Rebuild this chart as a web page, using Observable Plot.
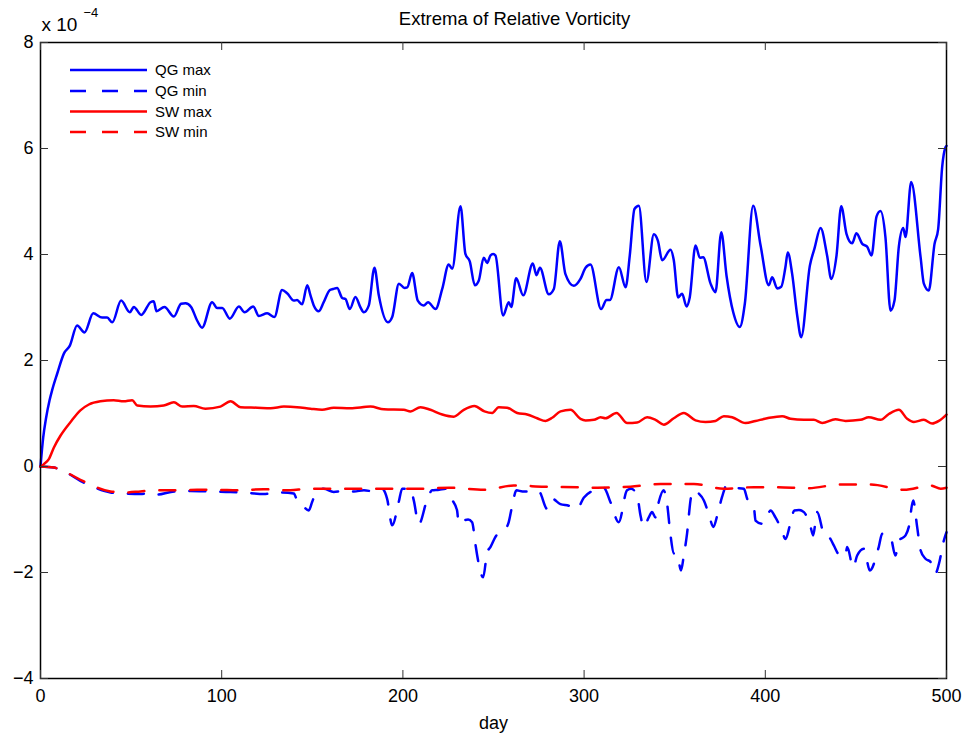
<!DOCTYPE html>
<html><head><meta charset="utf-8">
<script src="https://cdn.jsdelivr.net/npm/d3@7"></script>
<script src="https://cdn.jsdelivr.net/npm/@observablehq/plot@0.6"></script>
<style>
body{margin:0;background:#fff;}
#wrap{position:relative;width:968px;height:740px;font-family:"Liberation Sans",Arial,Helvetica,sans-serif;}
#wrap svg{display:block;}
#legend{position:absolute;left:0;top:0;}
</style></head><body><div id="wrap"></div>
<script>
const title = "Extrema of Relative Vorticity";
const xLabel = "day";
const scaleText = "x 10";
const scaleExp = "−4";
const xTicks = [0, 100, 200, 300, 400, 500];
const yTicks = [-4, -2, 0, 2, 4, 6, 8];
const seriesNames = ["QG max", "QG min", "SW max", "SW min"];
const seriesColors = ["#0000ff", "#0000ff", "#ff0000", "#ff0000"];
const seriesDashed = [false, true, false, true];

// values in units of 1e-4, [day, value]
const qgMax = [[0,0],[1.5,0.55],[3,0.9],[5,1.25],[6.5,1.45],[9.2,1.75],[12.9,2.13],[16.2,2.28],[20.2,2.66],[24.3,2.53],[29.1,2.89],[34,2.81],[36.8,2.81],[39.6,2.72],[44.5,3.13],[49.3,2.91],[51.5,3.01],[55.6,2.86],[60.7,3.10],[62.5,3.12],[64,2.93],[68.4,3.01],[73.6,2.83],[77.6,3.07],[80,3.08],[83.1,3.01],[86.5,2.75],[89.2,2.62],[94.7,3.10],[97.5,2.99],[100.3,2.99],[104.5,2.79],[109.5,3.02],[112.6,2.91],[117.4,3.02],[120.5,2.84],[125.1,2.89],[129.1,2.82],[133.3,3.33],[136.1,3.27],[139.8,3.13],[141.6,3.14],[144.4,3.06],[147.2,3.42],[149,3.23],[150.8,3.04],[153.6,2.93],[156.3,3.10],[159.7,3.33],[161.5,3.35],[163.7,3.37],[166.5,3.18],[168.3,3.16],[170.7,2.97],[173.8,3.20],[176.6,3.00],[178.4,2.91],[181.2,3.04],[184.3,3.75],[186.7,3.23],[191.7,2.72],[194.1,2.82],[197.8,3.45],[200.9,3.37],[202.4,3.38],[205.1,3.65],[208.2,3.13],[211.5,3.04],[213.9,3.10],[218,2.97],[221.7,3.35],[225.3,3.81],[227.2,3.73],[231.8,4.91],[234.5,4.01],[236.9,3.87],[239.7,3.42],[241.9,3.51],[244.6,3.94],[246.5,3.84],[248.3,3.98],[249.8,4.01],[251.1,3.98],[255.3,2.85],[258.4,3.10],[259.8,3.01],[262.5,3.55],[266.4,3.23],[271.7,3.83],[273.7,3.61],[275.6,3.75],[280.5,3.25],[283.3,3.35],[286.6,4.25],[289.7,3.63],[294.3,3.41],[298,3.54],[300.8,3.75],[303.5,3.81],[309.4,2.97],[312.4,3.14],[314.2,3.14],[319.2,3.76],[322.9,3.38],[325.2,3.98],[327.8,4.86],[330.2,4.92],[334.4,3.48],[338.5,4.38],[340.7,4.26],[343.1,3.89],[347.7,4.09],[349.5,3.89],[351.9,3.19],[354.1,3.26],[356.5,3.02],[358.3,3.19],[361.5,4.17],[363.9,3.94],[365.7,3.95],[369.8,3.45],[372.5,3.29],[375.7,4.42],[378.6,3.60],[382.3,2.91],[385.9,2.63],[388.7,3.07],[393.3,4.92],[397.4,4.17],[401.9,3.42],[403.8,3.57],[406.6,3.36],[408.8,3.39],[411.1,3.76],[412.4,4.04],[414.8,3.64],[417.6,2.85],[419.8,2.44],[424.6,3.79],[427.2,4.12],[430.5,4.50],[434.1,3.98],[436.4,3.54],[439.3,3.98],[441.9,4.91],[444.8,4.39],[447.9,4.21],[450.3,4.40],[453.5,4.20],[456.2,4.15],[458.6,3.98],[461.4,4.72],[463.6,4.82],[466.3,4.33],[469.1,2.94],[471.3,3.13],[473.7,4.15],[476.1,4.50],[477.4,4.33],[480.5,5.37],[485.7,3.95],[487.5,3.45],[490.2,3.32],[493.4,4.20],[495.4,4.48],[497.6,5.65],[499.4,6.02],[500,6.05]];

const qgMin = [[0,0],[7.4,-0.02],[12.9,-0.09],[22,-0.27],[29.4,-0.39],[38.6,-0.49],[47,-0.51],[55.2,-0.52],[60,-0.50],[64.4,-0.53],[72,-0.48],[82.7,-0.46],[94,-0.47],[104.8,-0.48],[115,-0.50],[123.2,-0.52],[132,-0.49],[139.8,-0.51],[141.6,-0.64],[145,-0.75],[148,-0.83],[149.9,-0.67],[152,-0.50],[156.3,-0.42],[161.8,-0.48],[167,-0.46],[173,-0.47],[178.5,-0.45],[184,-0.47],[188.6,-0.42],[191.3,-0.61],[194.1,-1.11],[197.7,-0.67],[199.6,-0.42],[204.2,-0.42],[206,-0.64],[208.8,-1.09],[213,-0.67],[216.1,-0.45],[220,-0.44],[223.5,-0.42],[227.2,-0.63],[229.9,-0.83],[230.8,-1.08],[233.6,-1.02],[236,-1.00],[238.2,-1.05],[240,-1.46],[241,-1.68],[244.3,-2.09],[246.5,-1.62],[248.3,-1.52],[251.6,-1.30],[255.7,-1.21],[258.4,-1.05],[260.3,-0.74],[262.7,-0.45],[266,-0.47],[270.4,-0.47],[275,-0.47],[279.6,-0.80],[282.4,-0.61],[286.9,-0.71],[291.5,-0.74],[296.1,-0.80],[299.8,-0.59],[305.3,-0.45],[310.8,-0.40],[314.5,-0.67],[319.1,-1.05],[323.7,-0.45],[326,-0.42],[329.3,-0.55],[331.1,-0.92],[332.9,-1.14],[335.7,-0.96],[337.5,-0.86],[339.4,-0.96],[341.2,-0.67],[343.9,-0.45],[345.8,-0.70],[347.6,-1.27],[349.5,-1.64],[351.3,-1.65],[353.5,-1.96],[354.9,-1.71],[356.8,-1.27],[359,-0.58],[360.6,-0.45],[363,-0.50],[366.1,-0.64],[368.7,-0.89],[371.4,-1.14],[373.5,-0.92],[376.1,-0.58],[378.6,-0.36],[383,-0.40],[388.2,-0.42],[390,-0.61],[393.7,-0.77],[394.6,-1.02],[398.2,-1.08],[400.1,-1.02],[402.9,-0.83],[405.6,-0.96],[409.2,-1.21],[411.1,-1.37],[413.8,-1.08],[416,-0.83],[418.6,-0.82],[421.3,-0.86],[425,-1.14],[426.4,-1.30],[428.6,-0.86],[432.3,-1.27],[436,-1.37],[437.8,-1.49],[441.9,-1.71],[444.3,-1.65],[445.2,-1.52],[448.5,-1.90],[450.7,-1.68],[454.4,-1.55],[457.7,-1.96],[462.6,-1.52],[464.5,-1.27],[469.1,-1.33],[471.8,-1.68],[473.7,-1.40],[477.4,-1.30],[479.2,-1.14],[481.6,-0.64],[483.8,-1.14],[485.7,-1.58],[488.4,-1.74],[491.2,-1.80],[493.9,-2.02],[495.8,-1.84],[498.5,-1.40],[500,-1.24]];

const swMax = [[0,0],[2,0.05],[4.6,0.14],[7.4,0.36],[11,0.58],[16.6,0.84],[22,1.06],[26.7,1.17],[33,1.23],[40.4,1.25],[45.9,1.23],[50.6,1.25],[53.4,1.15],[60.7,1.13],[68,1.15],[73.6,1.21],[78.2,1.13],[84.6,1.14],[91,1.09],[99.3,1.13],[104.9,1.23],[110.4,1.12],[119.6,1.11],[127,1.10],[134.3,1.13],[141.6,1.12],[149,1.09],[155.4,1.07],[161.8,1.11],[171,1.10],[182.1,1.13],[189.5,1.08],[200.5,1.07],[204.2,1.04],[209.7,1.12],[215.2,1.07],[221.7,0.98],[228.1,0.94],[233.6,1.07],[239.5,1.14],[245,1.04],[249.3,1.01],[252.9,1.12],[257.5,1.11],[263.1,1.01],[268.6,0.98],[274.1,0.91],[278.7,0.86],[282.4,0.92],[287,1.04],[292.5,1.07],[298,0.90],[300.8,0.87],[305.4,0.88],[309.1,0.93],[311.8,0.91],[317.9,1.01],[323.8,0.82],[329.3,0.83],[334.8,0.93],[339.4,0.88],[344,0.79],[349.5,0.91],[355,1.01],[361.5,0.87],[367,0.84],[372.5,0.86],[377.1,0.95],[381.7,0.93],[389.1,0.82],[394.6,0.86],[401,0.91],[409.3,0.95],[413.9,0.90],[421.3,0.88],[426.8,0.88],[431.4,0.82],[438.7,0.89],[444.3,0.86],[452.5,0.88],[457.1,0.93],[463.6,0.88],[468.2,0.99],[473.7,1.07],[478.3,0.90],[482,0.84],[487.5,0.88],[492.1,0.81],[495.8,0.86],[500,0.98]];

const swMin = [[0,0],[7.4,-0.02],[12.9,-0.09],[22,-0.25],[29.4,-0.37],[38.6,-0.47],[46.9,-0.49],[55.2,-0.47],[64.4,-0.45],[75.4,-0.45],[86.4,-0.44],[97.4,-0.44],[108.5,-0.45],[123.2,-0.43],[137.9,-0.45],[147.1,-0.42],[160,-0.42],[171,-0.42],[190,-0.42],[210,-0.42],[225.4,-0.40],[244.7,-0.44],[261.2,-0.36],[277.8,-0.38],[296.3,-0.39],[307.2,-0.40],[325.6,-0.38],[342.2,-0.33],[360.6,-0.33],[377.1,-0.42],[393.7,-0.39],[406.6,-0.39],[423.2,-0.41],[441.6,-0.34],[458.2,-0.34],[476.6,-0.44],[491.3,-0.36],[496.8,-0.42],[500,-0.40]];

const allSeries = [qgMax, qgMin, swMax, swMin];
const W = 968, H = 740, mL = 40, mR = 22, mT = 42, mB = 62;
const font = '"Liberation Sans", Arial, Helvetica, sans-serif';
const fmt = d => d < 0 ? "−" + Math.abs(d) : String(d);

const lineMarks = allSeries.map((s, i) => Plot.line(s, {
  x: d => d[0], y: d => d[1],
  stroke: seriesColors[i], strokeWidth: 2.5,
  strokeDasharray: seriesDashed[i] ? "16,15" : null,
  curve: "monotone-x"
}));

const chart = Plot.plot({
  width: W, height: H,
  marginLeft: mL, marginRight: mR, marginTop: mT, marginBottom: mB,
  style: {fontFamily: font, fontSize: "18px", color: "#000", background: "#fff", overflow: "visible"},
  x: {domain: [0, 500], label: null},
  y: {domain: [-4, 8], label: null},
  marks: [
    ...lineMarks,
    Plot.frame({stroke: "#000", strokeWidth: 1.5}),
    Plot.axisX(xTicks, {tickSize: 0, tickPadding: 11, fontSize: 18, tickFormat: fmt, label: null}),
    Plot.axisY(yTicks, {tickSize: 0, tickPadding: 7, fontSize: 18, tickFormat: fmt, label: null}),
    Plot.ruleX(xTicks, {x: d => d, y1: -4, y2: -4, insetBottom: 8, stroke: "#333", strokeWidth: 1}),
    Plot.ruleX(xTicks, {x: d => d, y1: 8, y2: 8, insetTop: 8, stroke: "#333", strokeWidth: 1}),
    Plot.ruleY(yTicks, {y: d => d, x1: 0, x2: 0, insetRight: -8, stroke: "#333", strokeWidth: 1}),
    Plot.ruleY(yTicks, {y: d => d, x1: 500, x2: 500, insetLeft: -8, stroke: "#333", strokeWidth: 1}),
    Plot.text([title], {frameAnchor: "top", lineAnchor: "bottom", dx: 21, dy: -18, fontSize: 18.5, fill: "#000"}),
    Plot.text([scaleText], {frameAnchor: "top-left", textAnchor: "start", lineAnchor: "bottom", dx: 1, dy: -12, fontSize: 19, fill: "#000"}),
    Plot.text([scaleExp], {frameAnchor: "top-left", textAnchor: "start", lineAnchor: "bottom", dx: 43, dy: -26, fontSize: 13, fill: "#000"}),
    Plot.text([xLabel], {frameAnchor: "bottom", lineAnchor: "bottom", dy: 50, fontSize: 18, fill: "#000"})
  ]
});
const wrap = document.getElementById("wrap");
wrap.appendChild(chart);

// legend overlay
const leg = d3.select(wrap).append("svg").attr("id", "legend").attr("width", W).attr("height", H);
const legY = [70, 91, 111.5, 132];
seriesNames.forEach((name, i) => {
  leg.append("line").attr("x1", 70).attr("x2", 147).attr("y1", legY[i]).attr("y2", legY[i])
    .attr("stroke", seriesColors[i]).attr("stroke-width", 2.5)
    .attr("stroke-dasharray", seriesDashed[i] ? "16,16" : null);
  leg.append("text").attr("x", 155).attr("y", legY[i]).attr("dy", "0.35em")
    .attr("font-family", font).attr("font-size", 15).attr("fill", "#000").text(name);
});
</script></body></html>
